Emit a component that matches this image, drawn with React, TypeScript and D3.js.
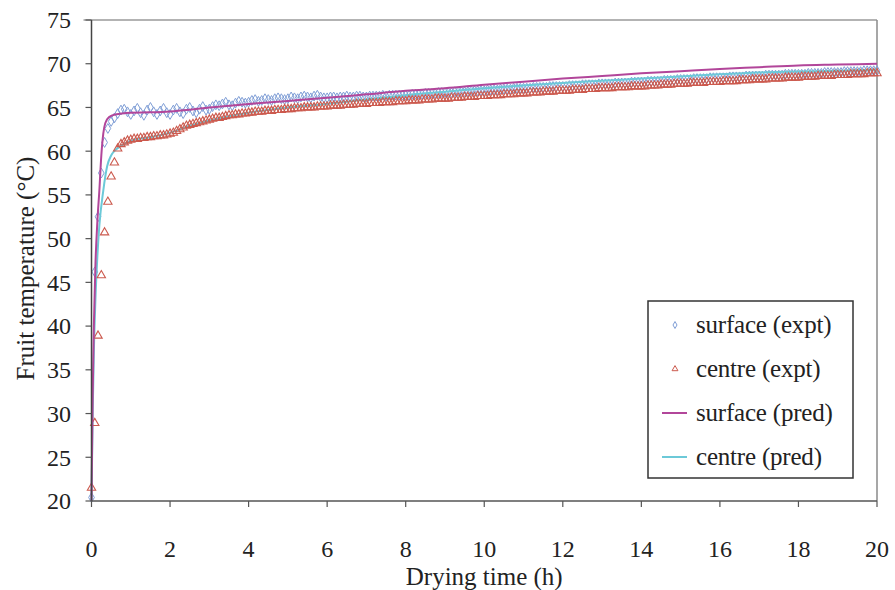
import React from "react";
import * as d3 from "d3";

// ---------- data ----------
const EXPT_STEP_H = 5 / 60; // measurements every 5 minutes

// surface (expt) - hourly rows of 5-min readings
const surfaceExpt: number[] = [
  20.4, 46.2, 52.5, 57.5, 61.0, 62.6, 63.4, 63.8, 64.3, 64.7, 64.8, 64.5,
  64.2, 64.6, 64.9, 64.4, 64.1, 64.7, 65.0, 64.5, 64.2, 64.6, 64.9, 64.4,
  64.2, 64.7, 64.9, 64.5, 64.3, 64.8, 65.0, 64.6, 64.4, 64.8, 65.1, 64.7,
  64.8, 65.1, 65.3, 65.2, 65.4, 65.6, 65.3, 65.2, 65.5, 65.7, 65.6, 65.5,
  65.6, 65.8, 65.9, 65.7, 65.8, 66.0, 65.9, 65.8, 66.0, 66.1, 66.0, 65.9,
  66.0, 66.2, 66.1, 66.0, 66.2, 66.3, 66.2, 66.1, 66.3, 66.4, 66.2, 66.1,
  66.1, 66.2, 66.2, 66.1, 66.2, 66.2, 66.3, 66.2, 66.2, 66.3, 66.3, 66.2,
  66.2, 66.3, 66.3, 66.3, 66.3, 66.4, 66.3, 66.4, 66.4, 66.4, 66.4, 66.4,
  66.4, 66.4, 66.5, 66.5, 66.5, 66.5, 66.6, 66.6, 66.6, 66.6, 66.7, 66.7,
  66.7, 66.7, 66.7, 66.8, 66.8, 66.8, 66.8, 66.8, 66.9, 66.9, 66.9, 66.9,
  66.9, 67.0, 67.0, 67.0, 67.0, 67.1, 67.1, 67.1, 67.1, 67.2, 67.2, 67.2,
  67.2, 67.2, 67.2, 67.3, 67.3, 67.3, 67.3, 67.3, 67.4, 67.4, 67.4, 67.4,
  67.4, 67.4, 67.5, 67.5, 67.5, 67.5, 67.6, 67.6, 67.6, 67.6, 67.6, 67.7,
  67.7, 67.7, 67.7, 67.7, 67.8, 67.8, 67.8, 67.8, 67.8, 67.9, 67.9, 67.9,
  67.9, 67.9, 68.0, 68.0, 68.0, 68.0, 68.0, 68.1, 68.1, 68.1, 68.1, 68.2,
  68.2, 68.2, 68.2, 68.2, 68.3, 68.3, 68.3, 68.3, 68.3, 68.4, 68.4, 68.4,
  68.4, 68.4, 68.4, 68.5, 68.5, 68.5, 68.5, 68.5, 68.6, 68.6, 68.6, 68.6,
  68.6, 68.6, 68.7, 68.7, 68.7, 68.7, 68.7, 68.7, 68.8, 68.8, 68.8, 68.8,
  68.8, 68.8, 68.8, 68.9, 68.9, 68.9, 68.9, 68.9, 69.0, 69.0, 69.0, 69.0,
  69.0, 69.0, 69.1, 69.1, 69.1, 69.1, 69.1, 69.1, 69.2, 69.2, 69.2, 69.2,
  69.2,
];

// centre (expt)
const centreExpt: number[] = [
  21.5, 28.9, 38.9, 45.8, 50.7, 54.2, 57.1, 58.7, 60.3, 60.8, 61.0, 61.2,
  61.3, 61.4, 61.4, 61.5, 61.5, 61.6, 61.6, 61.7, 61.7, 61.8, 61.8, 61.9,
  62.0, 62.1, 62.3, 62.5, 62.7, 62.9, 63.0, 63.1, 63.2, 63.3, 63.4, 63.5,
  63.6, 63.7, 63.8, 63.8, 63.9, 64.0, 64.1, 64.1, 64.2, 64.2, 64.3, 64.3,
  64.4, 64.4, 64.5, 64.5, 64.5, 64.6, 64.6, 64.6, 64.7, 64.7, 64.7, 64.8,
  64.8, 64.8, 64.9, 64.9, 64.9, 65.0, 65.0, 65.0, 65.0, 65.1, 65.1, 65.1,
  65.1, 65.2, 65.2, 65.2, 65.2, 65.3, 65.3, 65.3, 65.3, 65.4, 65.4, 65.4,
  65.4, 65.5, 65.5, 65.5, 65.5, 65.6, 65.6, 65.6, 65.6, 65.7, 65.7, 65.7,
  65.7, 65.8, 65.8, 65.8, 65.8, 65.9, 65.9, 65.9, 65.9, 66.0, 66.0, 66.0,
  66.0, 66.0, 66.1, 66.1, 66.1, 66.1, 66.2, 66.2, 66.2, 66.2, 66.3, 66.3,
  66.3, 66.3, 66.4, 66.4, 66.4, 66.4, 66.5, 66.5, 66.5, 66.5, 66.6, 66.6,
  66.6, 66.6, 66.7, 66.7, 66.7, 66.7, 66.8, 66.8, 66.8, 66.8, 66.9, 66.9,
  66.9, 66.9, 66.9, 67.0, 67.0, 67.0, 67.0, 67.1, 67.1, 67.1, 67.1, 67.2,
  67.2, 67.2, 67.2, 67.2, 67.3, 67.3, 67.3, 67.3, 67.3, 67.4, 67.4, 67.4,
  67.4, 67.4, 67.5, 67.5, 67.5, 67.5, 67.6, 67.6, 67.6, 67.6, 67.7, 67.7,
  67.7, 67.7, 67.7, 67.8, 67.8, 67.8, 67.8, 67.8, 67.9, 67.9, 67.9, 67.9,
  67.9, 68.0, 68.0, 68.0, 68.0, 68.0, 68.1, 68.1, 68.1, 68.1, 68.2, 68.2,
  68.2, 68.2, 68.2, 68.3, 68.3, 68.3, 68.3, 68.3, 68.4, 68.4, 68.4, 68.4,
  68.4, 68.5, 68.5, 68.5, 68.5, 68.5, 68.6, 68.6, 68.6, 68.6, 68.6, 68.7,
  68.7, 68.7, 68.7, 68.7, 68.8, 68.8, 68.8, 68.8, 68.8, 68.9, 68.9, 68.9,
  68.9,
];

// predictions
const surfacePredT = [0, 0.03, 0.06, 0.1, 0.15, 0.2, 0.25, 0.3, 0.35, 0.45, 0.6, 1, 1.5, 2, 2.5, 3, 4, 5, 6, 7, 8, 9, 10, 11, 12, 13, 14, 15, 16, 17, 18, 19, 20];
const surfacePredV = [20, 32, 40, 47, 52, 55.5, 59.5, 62, 63.2, 63.9, 64.2, 64.4, 64.45, 64.55, 64.75, 65.0, 65.4, 65.75, 66.1, 66.5, 66.9, 67.2, 67.6, 67.95, 68.3, 68.6, 68.9, 69.15, 69.4, 69.6, 69.8, 69.9, 70.0];

const centrePredT = [0, 0.03, 0.06, 0.1, 0.15, 0.2, 0.3, 0.4, 0.5, 0.6, 0.75, 1, 1.5, 2, 2.5, 3, 3.5, 4, 5, 6, 7, 8, 9, 10, 11, 12, 13, 14, 15, 16, 17, 18, 19, 20];
const centrePredV = [20, 30, 37, 43, 48, 51.5, 55.5, 58.3, 59.5, 60.1, 60.6, 61.2, 61.6, 62.1, 62.9, 63.5, 64.0, 64.4, 65.0, 65.4, 65.9, 66.4, 66.8, 67.2, 67.5, 67.8, 68.05, 68.3, 68.55, 68.8, 69.0, 69.1, 69.2, 69.3];

const xTicks = [0, 2, 4, 6, 8, 10, 12, 14, 16, 18, 20];
const yTicks = [20, 25, 30, 35, 40, 45, 50, 55, 60, 65, 70, 75];
const legendLabels = ["surface (expt)", "centre (expt)", "surface (pred)", "centre (pred)"];

// ---------- style ----------
const W = 895;
const H = 590;
const PL = 91.5, PR = 877, PT = 20, PB = 501;
const FONT = "Liberation Serif, Tinos, Times New Roman, DejaVu Serif, serif";
const C_DIAMOND = "#7f9ed6";
const C_TRI = "#cc5a4e";
const C_SURF = "#b2469a";
const C_CENT = "#6cc9d8";

const tickTxt: React.CSSProperties = { fontFamily: FONT, fontSize: 24, fill: "#222" };
const titleTxt: React.CSSProperties = { fontFamily: FONT, fontSize: 25, fill: "#222" };
const legTxt: React.CSSProperties = { fontFamily: FONT, fontSize: 25, fill: "#222", letterSpacing: "-0.2px" };

export default function App() {
  const x = d3.scaleLinear().domain([0, 20]).range([PL, PR]);
  const y = d3.scaleLinear().domain([20, 75]).range([PB, PT]);

  const line = d3
    .line<[number, number]>()
    .x((d) => x(d[0]))
    .y((d) => y(d[1]))
    .curve(d3.curveMonotoneX);

  const surfPath = line(surfacePredT.map((t, i) => [t, surfacePredV[i]]) as [number, number][]) || "";
  const centPath = line(centrePredT.map((t, i) => [t, centrePredV[i]]) as [number, number][]) || "";

  const diamond = d3.symbol().type(d3.symbolDiamond).size(28)() || "";
  const triangle = d3.symbol().type(d3.symbolTriangle).size(30)() || "";
  const diamondSm = d3.symbol().type(d3.symbolDiamond).size(14)() || "";
  const triangleSm = d3.symbol().type(d3.symbolTriangle).size(15)() || "";

  const legendX = 648, legendY = 301, legendW = 205, legendH = 177;
  const rowY = [325, 369, 413, 457];

  return (
    <svg
      width={W}
      height={H}
      style={{ position: "absolute", left: 0, top: 0, background: "#fff" }}
    >
      <rect x={0} y={0} width={W} height={H} fill="#fff" />
      {/* frame top/right */}
      <line x1={PL - 8} x2={PR} y1={PT} y2={PT} stroke="#9a9a9a" strokeWidth={1.5} />
      <line x1={PR} x2={PR} y1={PT} y2={PB} stroke="#8a8a8a" strokeWidth={1.5} />

      {/* data: diamonds */}
      <g fill="none" stroke={C_DIAMOND} strokeWidth={1}>
        {surfaceExpt.map((v, i) => (
          <path key={i} d={diamond} transform={`translate(${x(i * EXPT_STEP_H)},${y(v)})`} />
        ))}
      </g>
      {/* centre pred */}
      <path d={centPath} fill="none" stroke={C_CENT} strokeWidth={2} />
      {/* triangles */}
      <g fill="none" stroke={C_TRI} strokeWidth={1.1}>
        {centreExpt.map((v, i) => (
          <path key={i} d={triangle} transform={`translate(${x(i * EXPT_STEP_H)},${y(v)})`} />
        ))}
      </g>
      {/* surface pred */}
      <path d={surfPath} fill="none" stroke={C_SURF} strokeWidth={2} />

      {/* axes */}
      <line x1={PL} x2={PL} y1={PT} y2={PB} stroke="#444" strokeWidth={1.5} />
      <line x1={PL} x2={PR} y1={PB} y2={PB} stroke="#555" strokeWidth={1.5} />
      {yTicks.map((t) => (
        <g key={"y" + t}>
          <line x1={PL - 6} x2={PL} y1={y(t)} y2={y(t)} stroke="#555" strokeWidth={1.2} />
          <text x={71} y={y(t)} dy="0.35em" textAnchor="end" style={tickTxt}>
            {t}
          </text>
        </g>
      ))}
      {xTicks.map((t) => (
        <g key={"x" + t}>
          <line x1={x(t)} x2={x(t)} y1={PB} y2={PB + 6} stroke="#555" strokeWidth={1.2} />
          <text x={x(t)} y={557} textAnchor="middle" style={tickTxt}>
            {t}
          </text>
        </g>
      ))}
      <text x={(PL + PR) / 2} y={585} textAnchor="middle" style={titleTxt}>
        Drying time (h)
      </text>
      <text
        transform={`translate(34,${(PT + PB) / 2 + 8}) rotate(-90)`}
        textAnchor="middle"
        style={titleTxt}
      >
        Fruit temperature (°C)
      </text>

      {/* legend */}
      <rect x={legendX} y={legendY} width={legendW} height={legendH} fill="#fff" stroke="#333" strokeWidth={1.5} />
      <path d={diamondSm} transform={`translate(675,${rowY[0]})`} fill="none" stroke={C_DIAMOND} strokeWidth={1} />
      <path d={triangleSm} transform={`translate(675,${rowY[1]})`} fill="none" stroke={C_TRI} strokeWidth={1} />
      <line x1={662} x2={687} y1={rowY[2]} y2={rowY[2]} stroke={C_SURF} strokeWidth={2} />
      <line x1={662} x2={687} y1={rowY[3]} y2={rowY[3]} stroke={C_CENT} strokeWidth={2} />
      {legendLabels.map((l, i) => (
        <text key={l} x={696} y={rowY[i]} dy="0.32em" style={legTxt}>
          {l}
        </text>
      ))}
    </svg>
  );
}
